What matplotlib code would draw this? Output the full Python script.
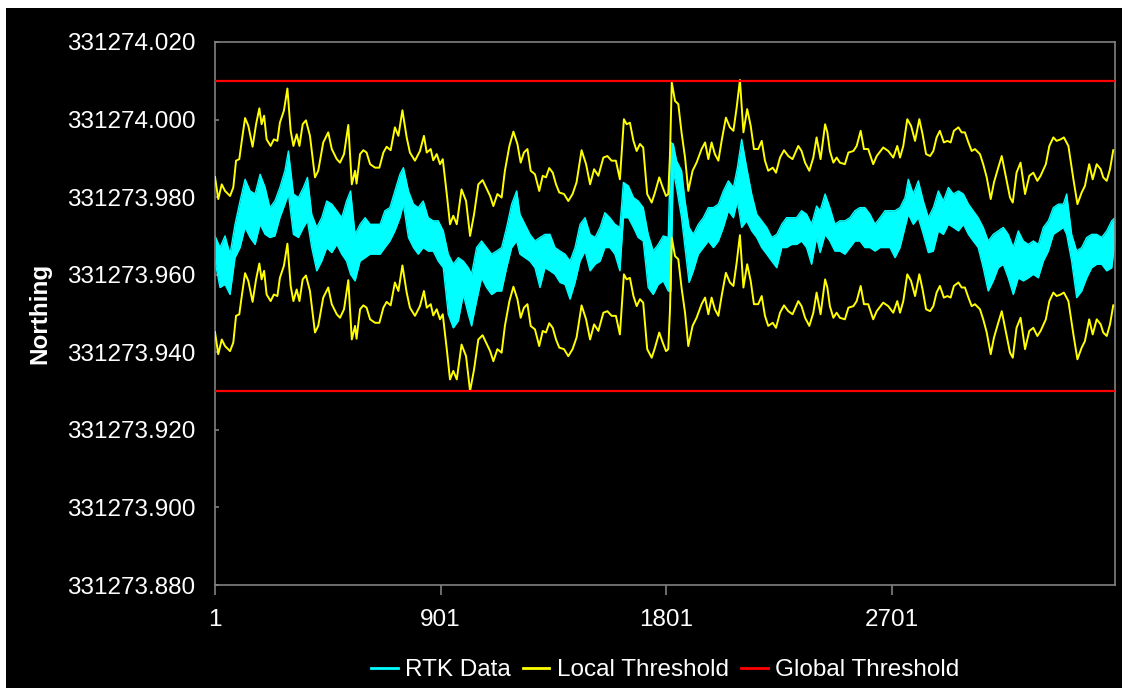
import numpy as np
import matplotlib
matplotlib.use("Agg")
import matplotlib.pyplot as plt
from matplotlib.lines import Line2D
from matplotlib.patches import Rectangle
from matplotlib.ticker import FixedLocator, FormatStrFormatter

# ---- data ----
n_points = 3593
x_ticks = [1, 901, 1801, 2701]
y_ticks = [331273.880, 331273.900, 331273.920, 331273.940,
           331273.960, 331273.980, 331274.000, 331274.020]

global_upper = 331274.010
global_lower = 331273.930
local_band = 0.020   # local threshold = local mean +/- this

# local mean (centre of the two yellow threshold lines)
local_idx = [
    1, 14, 28, 41, 61, 74, 85, 98, 107, 121, 134, 151, 165, 178, 187, 197, 207, 223, 236, 250,
    260, 276, 290, 303, 314, 327, 338, 351, 364, 380, 400, 413, 433, 453, 467, 487, 500, 516, 533, 547,
    560, 566, 580, 593, 606, 620, 640, 657, 673, 686, 702, 719, 733, 749, 766, 779, 799, 819, 835, 846,
    862, 872, 886, 899, 910, 926, 939, 952, 966, 985, 1003, 1019, 1035, 1052, 1069, 1083, 1099, 1112, 1128, 1145,
    1158, 1176, 1192, 1208, 1221, 1234, 1248, 1261, 1278, 1295, 1309, 1322, 1335, 1349, 1362, 1375, 1394, 1411, 1428, 1444,
    1464, 1482, 1498, 1514, 1531, 1551, 1567, 1584, 1601, 1617, 1633, 1644, 1657, 1671, 1684, 1697, 1710, 1726, 1744, 1757,
    1774, 1788, 1801, 1810, 1817, 1824, 1837, 1850, 1863, 1877, 1890, 1907, 1923, 1943, 1957, 1970, 1983, 1996, 2010, 2023,
    2040, 2056, 2070, 2083, 2096, 2110, 2125, 2139, 2152, 2169, 2183, 2196, 2209, 2227, 2240, 2256, 2272, 2289, 2306, 2329,
    2342, 2356, 2373, 2389, 2402, 2418, 2436, 2445, 2455, 2469, 2482, 2495, 2515, 2529, 2549, 2562, 2578, 2591, 2608, 2628,
    2642, 2668, 2688, 2708, 2724, 2735, 2748, 2764, 2779, 2795, 2812, 2825, 2839, 2855, 2868, 2881, 2894, 2910, 2924, 2937,
    2950, 2968, 2981, 2994, 3008, 3021, 3034, 3054, 3067, 3081, 3097, 3110, 3127, 3141, 3158, 3174, 3185, 3200, 3216, 3234,
    3251, 3267, 3283, 3296, 3317, 3331, 3347, 3360, 3376, 3389, 3407, 3427, 3443, 3460, 3473, 3490, 3504, 3520, 3536, 3546,
    3560, 3573, 3586]
local_mid = [
    331273.9652, 331273.9595, 331273.9633, 331273.9616, 331273.9603, 331273.9625, 331273.9694, 331273.9698, 331273.9741, 331273.9804,
    331273.9784, 331273.9730, 331273.9788, 331273.9829, 331273.9788, 331273.9810, 331273.9749, 331273.9732, 331273.9749, 331273.9745,
    331273.9792, 331273.9823, 331273.9880, 331273.9771, 331273.9732, 331273.9762, 331273.9732, 331273.9788, 331273.9798, 331273.9758,
    331273.9651, 331273.9668, 331273.9741, 331273.9767, 331273.9724, 331273.9698, 331273.9689, 331273.9711, 331273.9786, 331273.9633,
    331273.9668, 331273.9635, 331273.9711, 331273.9721, 331273.9715, 331273.9685, 331273.9676, 331273.9676, 331273.9715, 331273.9730,
    331273.9721, 331273.9780, 331273.9758, 331273.9824, 331273.9754, 331273.9715, 331273.9694, 331273.9719, 331273.9758, 331273.9715,
    331273.9724, 331273.9695, 331273.9711, 331273.9685, 331273.9698, 331273.9608, 331273.9530, 331273.9552, 331273.9530, 331273.9620,
    331273.9590, 331273.9500, 331273.9556, 331273.9633, 331273.9644, 331273.9625, 331273.9603, 331273.9577, 331273.9608, 331273.9599,
    331273.9668, 331273.9732, 331273.9769, 331273.9737, 331273.9689, 331273.9715, 331273.9724, 331273.9668, 331273.9659, 331273.9616,
    331273.9655, 331273.9651, 331273.9675, 331273.9663, 331273.9633, 331273.9612, 331273.9608, 331273.9590, 331273.9608, 331273.9638,
    331273.9721, 331273.9685, 331273.9633, 331273.9672, 331273.9655, 331273.9702, 331273.9706, 331273.9694, 331273.9694, 331273.9646,
    331273.9801, 331273.9788, 331273.9792, 331273.9745, 331273.9719, 331273.9737, 331273.9728, 331273.9608, 331273.9586, 331273.9612,
    331273.9651, 331273.9625, 331273.9603, 331273.9608, 331273.9711, 331273.9896, 331273.9848, 331273.9840, 331273.9767, 331273.9702,
    331273.9616, 331273.9668, 331273.9689, 331273.9724, 331273.9741, 331273.9698, 331273.9741, 331273.9711, 331273.9694, 331273.9745,
    331273.9805, 331273.9780, 331273.9771, 331273.9831, 331273.9902, 331273.9767, 331273.9827, 331273.9784, 331273.9724, 331273.9724,
    331273.9745, 331273.9694, 331273.9668, 331273.9676, 331273.9663, 331273.9702, 331273.9721, 331273.9706, 331273.9698, 331273.9732,
    331273.9719, 331273.9689, 331273.9668, 331273.9702, 331273.9754, 331273.9698, 331273.9788, 331273.9767, 331273.9719, 331273.9689,
    331273.9702, 331273.9689, 331273.9685, 331273.9715, 331273.9719, 331273.9732, 331273.9771, 331273.9724, 331273.9724, 331273.9685,
    331273.9706, 331273.9728, 331273.9719, 331273.9702, 331273.9732, 331273.9702, 331273.9732, 331273.9801, 331273.9784, 331273.9745,
    331273.9801, 331273.9762, 331273.9711, 331273.9706, 331273.9719, 331273.9754, 331273.9771, 331273.9741, 331273.9745, 331273.9741,
    331273.9771, 331273.9780, 331273.9767, 331273.9767, 331273.9741, 331273.9719, 331273.9724, 331273.9711, 331273.9685, 331273.9651,
    331273.9595, 331273.9638, 331273.9676, 331273.9706, 331273.9651, 331273.9599, 331273.9586, 331273.9663, 331273.9689, 331273.9608,
    331273.9655, 331273.9663, 331273.9642, 331273.9655, 331273.9685, 331273.9732, 331273.9754, 331273.9745, 331273.9749, 331273.9754,
    331273.9732, 331273.9646, 331273.9582, 331273.9612, 331273.9629, 331273.9685, 331273.9646, 331273.9685, 331273.9672, 331273.9651,
    331273.9642, 331273.9672, 331273.9721]

# RTK data: upper and lower edge of the noisy cyan trace
rtk_idx = [
    1, 21, 41, 61, 81, 101, 121, 141, 161, 181, 201, 220, 240, 260, 280, 294, 314, 334, 354, 370,
    387, 407, 427, 447, 467, 487, 507, 526, 542, 560, 580, 600, 620, 640, 660, 679, 699, 719, 739, 753,
    773, 793, 812, 832, 852, 872, 892, 912, 932, 952, 972, 992, 1012, 1025, 1045, 1065, 1085, 1105, 1125, 1145,
    1165, 1185, 1205, 1218, 1238, 1258, 1278, 1298, 1318, 1338, 1358, 1378, 1398, 1418, 1438, 1458, 1478, 1498, 1518, 1538,
    1557, 1577, 1597, 1617, 1631, 1651, 1671, 1690, 1710, 1730, 1750, 1770, 1790, 1810, 1820, 1830, 1843, 1863, 1877, 1893,
    1910, 1930, 1950, 1970, 1990, 2010, 2030, 2050, 2070, 2086, 2103, 2123, 2143, 2163, 2183, 2203, 2223, 2243, 2263, 2282,
    2302, 2322, 2342, 2362, 2382, 2402, 2416, 2436, 2455, 2475, 2495, 2515, 2535, 2555, 2575, 2595, 2615, 2635, 2655, 2675,
    2695, 2715, 2735, 2755, 2768, 2788, 2808, 2828, 2848, 2868, 2888, 2908, 2928, 2948, 2968, 2988, 3008, 3027, 3047, 3067,
    3087, 3107, 3127, 3147, 3167, 3187, 3207, 3227, 3247, 3267, 3287, 3307, 3327, 3347, 3367, 3387, 3400, 3420, 3440, 3460,
    3480, 3500, 3520, 3540, 3560, 3580, 3593]
rtk_hi = [
    331273.9700, 331273.9670, 331273.9700, 331273.9653, 331273.9730, 331273.9790, 331273.9846, 331273.9816, 331273.9808, 331273.9859,
    331273.9825, 331273.9773, 331273.9790, 331273.9825, 331273.9868, 331273.9919, 331273.9808, 331273.9799, 331273.9825, 331273.9851,
    331273.9756, 331273.9722, 331273.9747, 331273.9790, 331273.9782, 331273.9765, 331273.9747, 331273.9790, 331273.9816, 331273.9704,
    331273.9730, 331273.9747, 331273.9730, 331273.9730, 331273.9730, 331273.9765, 331273.9773, 331273.9816, 331273.9859, 331273.9876,
    331273.9816, 331273.9782, 331273.9773, 331273.9790, 331273.9747, 331273.9739, 331273.9739, 331273.9713, 331273.9653, 331273.9627,
    331273.9644, 331273.9635, 331273.9618, 331273.9601, 331273.9670, 331273.9687, 331273.9670, 331273.9653, 331273.9661, 331273.9670,
    331273.9722, 331273.9782, 331273.9816, 331273.9756, 331273.9730, 331273.9704, 331273.9687, 331273.9696, 331273.9704, 331273.9704,
    331273.9670, 331273.9661, 331273.9653, 331273.9635, 331273.9670, 331273.9730, 331273.9747, 331273.9704, 331273.9696, 331273.9722,
    331273.9760, 331273.9747, 331273.9730, 331273.9722, 331273.9838, 331273.9829, 331273.9799, 331273.9790, 331273.9773, 331273.9704,
    331273.9661, 331273.9678, 331273.9700, 331273.9696, 331273.9941, 331273.9937, 331273.9894, 331273.9868, 331273.9790, 331273.9722,
    331273.9704, 331273.9730, 331273.9747, 331273.9773, 331273.9773, 331273.9782, 331273.9816, 331273.9842, 331273.9825, 331273.9876,
    331273.9949, 331273.9876, 331273.9808, 331273.9756, 331273.9739, 331273.9722, 331273.9696, 331273.9704, 331273.9730, 331273.9747,
    331273.9747, 331273.9747, 331273.9765, 331273.9756, 331273.9730, 331273.9777, 331273.9765, 331273.9808, 331273.9773, 331273.9730,
    331273.9739, 331273.9739, 331273.9747, 331273.9765, 331273.9773, 331273.9773, 331273.9756, 331273.9730, 331273.9747, 331273.9765,
    331273.9765, 331273.9765, 331273.9773, 331273.9799, 331273.9846, 331273.9808, 331273.9842, 331273.9790, 331273.9747, 331273.9773,
    331273.9816, 331273.9790, 331273.9825, 331273.9808, 331273.9816, 331273.9808, 331273.9782, 331273.9765, 331273.9747, 331273.9722,
    331273.9687, 331273.9704, 331273.9713, 331273.9722, 331273.9704, 331273.9670, 331273.9713, 331273.9687, 331273.9678, 331273.9687,
    331273.9678, 331273.9722, 331273.9739, 331273.9773, 331273.9782, 331273.9782, 331273.9808, 331273.9704, 331273.9661, 331273.9670,
    331273.9696, 331273.9704, 331273.9704, 331273.9696, 331273.9713, 331273.9739, 331273.9747]
rtk_lo = [
    331273.9635, 331273.9567, 331273.9575, 331273.9549, 331273.9644, 331273.9670, 331273.9722, 331273.9696, 331273.9678, 331273.9730,
    331273.9704, 331273.9696, 331273.9700, 331273.9747, 331273.9782, 331273.9808, 331273.9704, 331273.9696, 331273.9722, 331273.9739,
    331273.9670, 331273.9610, 331273.9635, 331273.9670, 331273.9657, 331273.9678, 331273.9653, 331273.9635, 331273.9601, 331273.9584,
    331273.9635, 331273.9644, 331273.9653, 331273.9653, 331273.9653, 331273.9670, 331273.9687, 331273.9713, 331273.9747, 331273.9782,
    331273.9696, 331273.9670, 331273.9653, 331273.9670, 331273.9661, 331273.9661, 331273.9635, 331273.9618, 331273.9498, 331273.9463,
    331273.9481, 331273.9549, 331273.9498, 331273.9468, 331273.9532, 331273.9592, 331273.9567, 331273.9549, 331273.9558, 331273.9558,
    331273.9618, 331273.9670, 331273.9687, 331273.9653, 331273.9644, 331273.9635, 331273.9618, 331273.9567, 331273.9618, 331273.9610,
    331273.9601, 331273.9580, 331273.9575, 331273.9537, 331273.9580, 331273.9635, 331273.9661, 331273.9610, 331273.9627, 331273.9635,
    331273.9670, 331273.9670, 331273.9653, 331273.9610, 331273.9747, 331273.9747, 331273.9722, 331273.9696, 331273.9687, 331273.9567,
    331273.9549, 331273.9575, 331273.9584, 331273.9558, 331273.9558, 331273.9868, 331273.9825, 331273.9747, 331273.9670, 331273.9580,
    331273.9610, 331273.9653, 331273.9670, 331273.9687, 331273.9670, 331273.9687, 331273.9722, 331273.9765, 331273.9747, 331273.9790,
    331273.9722, 331273.9739, 331273.9713, 331273.9696, 331273.9670, 331273.9653, 331273.9635, 331273.9618, 331273.9670, 331273.9670,
    331273.9678, 331273.9678, 331273.9687, 331273.9670, 331273.9627, 331273.9696, 331273.9657, 331273.9704, 331273.9687, 331273.9661,
    331273.9661, 331273.9653, 331273.9670, 331273.9687, 331273.9687, 331273.9670, 331273.9670, 331273.9661, 331273.9670, 331273.9670,
    331273.9670, 331273.9644, 331273.9670, 331273.9722, 331273.9756, 331273.9730, 331273.9747, 331273.9704, 331273.9657, 331273.9661,
    331273.9713, 331273.9704, 331273.9730, 331273.9722, 331273.9713, 331273.9730, 331273.9704, 331273.9687, 331273.9670, 331273.9618,
    331273.9558, 331273.9584, 331273.9618, 331273.9627, 331273.9592, 331273.9549, 331273.9592, 331273.9584, 331273.9592, 331273.9601,
    331273.9592, 331273.9635, 331273.9661, 331273.9704, 331273.9713, 331273.9722, 331273.9704, 331273.9635, 331273.9541, 331273.9558,
    331273.9592, 331273.9618, 331273.9627, 331273.9627, 331273.9610, 331273.9618, 331273.9687]

# ---- plot ----
plt.rcParams["font.family"] = ["Liberation Sans", "DejaVu Sans"]
font_size = 17.5

fig = plt.figure(figsize=(11.22, 6.88), dpi=100, facecolor="white")
# black chart area (thin white margin at left and top like the original)
fig.patches.append(Rectangle((6 / 1122, 0), 1, 1 - 8 / 688, transform=fig.transFigure,
                             facecolor="black", edgecolor="none", zorder=-10))

ax = fig.add_axes([215 / 1122, 1 - 585 / 688, 900 / 1122, 543 / 688])
ax.set_facecolor("black")

local_mid = np.array(local_mid)
cyan = "#00FFFF"
yellow = "#FFFF00"
red = "#FF0000"

ax.fill_between(rtk_idx, rtk_lo, rtk_hi, color=cyan, linewidth=0, zorder=2)
ax.plot(rtk_idx, rtk_hi, color=cyan, linewidth=1.0, zorder=2)
ax.plot(rtk_idx, rtk_lo, color=cyan, linewidth=1.0, zorder=2)

ax.plot(local_idx, local_mid + local_band, color=yellow, linewidth=1.4, zorder=3)
ax.plot(local_idx, local_mid - local_band, color=yellow, linewidth=1.4, zorder=3)

ax.plot([1, n_points], [global_upper, global_upper], color=red, linewidth=1.6, zorder=4)
ax.plot([1, n_points], [global_lower, global_lower], color=red, linewidth=1.6, zorder=4)

ax.set_xlim(1, n_points)
ax.set_ylim(y_ticks[0], y_ticks[-1])
ax.xaxis.set_major_locator(FixedLocator(x_ticks))
ax.yaxis.set_major_locator(FixedLocator(y_ticks))
ax.yaxis.set_major_formatter(FormatStrFormatter("%.3f"))

for s in ax.spines.values():
    s.set_color("#808080")
    s.set_linewidth(1.2)
ax.tick_params(axis="x", direction="out", length=7, width=1.2, color="#808080",
               labelcolor="white", labelsize=font_size, pad=10)
ax.tick_params(axis="y", direction="in", length=3, width=1.2, color="#808080",
               labelcolor="white", labelsize=font_size, pad=14)

fig.text(40 / 1122, 1 - 313 / 688, "Northing", rotation=90, color="white",
         fontsize=font_size, fontweight="bold", ha="center", va="center")

handles = [Line2D([], [], color=cyan, linewidth=2),
           Line2D([], [], color=yellow, linewidth=2),
           Line2D([], [], color=red, linewidth=2)]
labels = ["RTK Data", "Local Threshold", "Global Threshold"]
fig.legend(handles, labels, loc="center", bbox_to_anchor=(665 / 1122, 1 - 670 / 688),
           ncol=3, frameon=False, fontsize=font_size, labelcolor="white",
           handlelength=1.1, handletextpad=0.3, columnspacing=0.5)

fig.savefig("out.png", dpi=100, facecolor=fig.get_facecolor())
